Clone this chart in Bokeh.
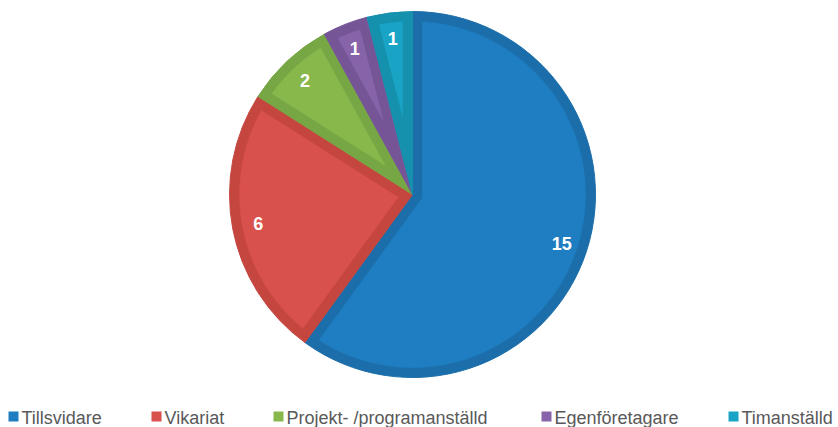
import numpy as np
from bokeh.plotting import figure
from bokeh.models import Range1d, ColumnDataSource
from bokeh.core.properties import value
from bokeh.embed import file_html
from bokeh.resources import INLINE

# ---- data ----
categories = ["Tillsvidare", "Vikariat", "Projekt- /programanställd", "Egenföretagare", "Timanställd"]
counts = [15, 6, 2, 1, 1]
fill_colors = ["#1F7EC1", "#D9514D", "#88B84C", "#8763A9", "#19A4C6"]
edge_colors = ["#1C6EAA", "#C4463F", "#77A645", "#765597", "#1591AE"]

# ---- layout (pixels) ----
W, H = 838, 427
cx, cy = 412, H - 194
R = 183
d = 10
label_r = 157
legend_square_left = [8, 151, 273, 541, 728]
legend_baseline = H - 417

p = figure(width=W, height=H, output_backend="svg", toolbar_location=None,
           x_range=Range1d(0, W), y_range=Range1d(0, H), min_border=0,
           outline_line_color=None, background_fill_color="white")
p.axis.visible = False
p.grid.visible = False

vals = np.array(counts, dtype=float)
total = vals.sum()
cum = np.concatenate([[0], np.cumsum(vals)])
a1 = np.pi / 2 - 2 * np.pi * cum[:-1] / total
a2 = np.pi / 2 - 2 * np.pi * cum[1:] / total

src = ColumnDataSource(dict(start=a1, end=a2, edge=edge_colors))
p.wedge(x=cx, y=cy, radius=R, start_angle="start", end_angle="end", direction="clock",
        fill_color="edge", line_color="edge", line_width=1, source=src)

# inner (inset) patches
Ri = R - d
delta = np.arcsin(d / Ri)
xs, ys = [], []
for s, e in zip(a1, a2):
    span = s - e
    arc = np.linspace(s - delta, e + delta, 120)
    px = list(cx + Ri * np.cos(arc))
    py = list(cy + Ri * np.sin(arc))
    mid = (s + e) / 2
    dist = d / np.sin(span / 2)
    px.append(cx + dist * np.cos(mid))
    py.append(cy + dist * np.sin(mid))
    xs.append(px)
    ys.append(py)
p.patches(xs=xs, ys=ys, fill_color=fill_colors, line_color=fill_colors, line_width=0.5)

# value labels
mids = (a1 + a2) / 2
p.text(x=list(cx + label_r * np.cos(mids)), y=list(cy + label_r * np.sin(mids)),
       text=[str(c) for c in counts], text_color="white", text_font=value("Liberation Sans"),
       text_font_style="bold", text_font_size="18px", text_align="center", text_baseline="middle")

# legend
sq = 10
lx = np.array(legend_square_left, dtype=float)
p.rect(x=list(lx + sq / 2), y=[H - 416] * len(lx), width=sq, height=sq,
       fill_color=fill_colors, line_color=None)
p.text(x=list(lx + 13), y=[legend_baseline] * len(lx), text=categories,
       text_color="#595959", text_font=value("Liberation Sans"), text_font_size="18px",
       text_align="left", text_baseline="alphabetic")

open("out.html", "w").write(file_html(p, INLINE))
